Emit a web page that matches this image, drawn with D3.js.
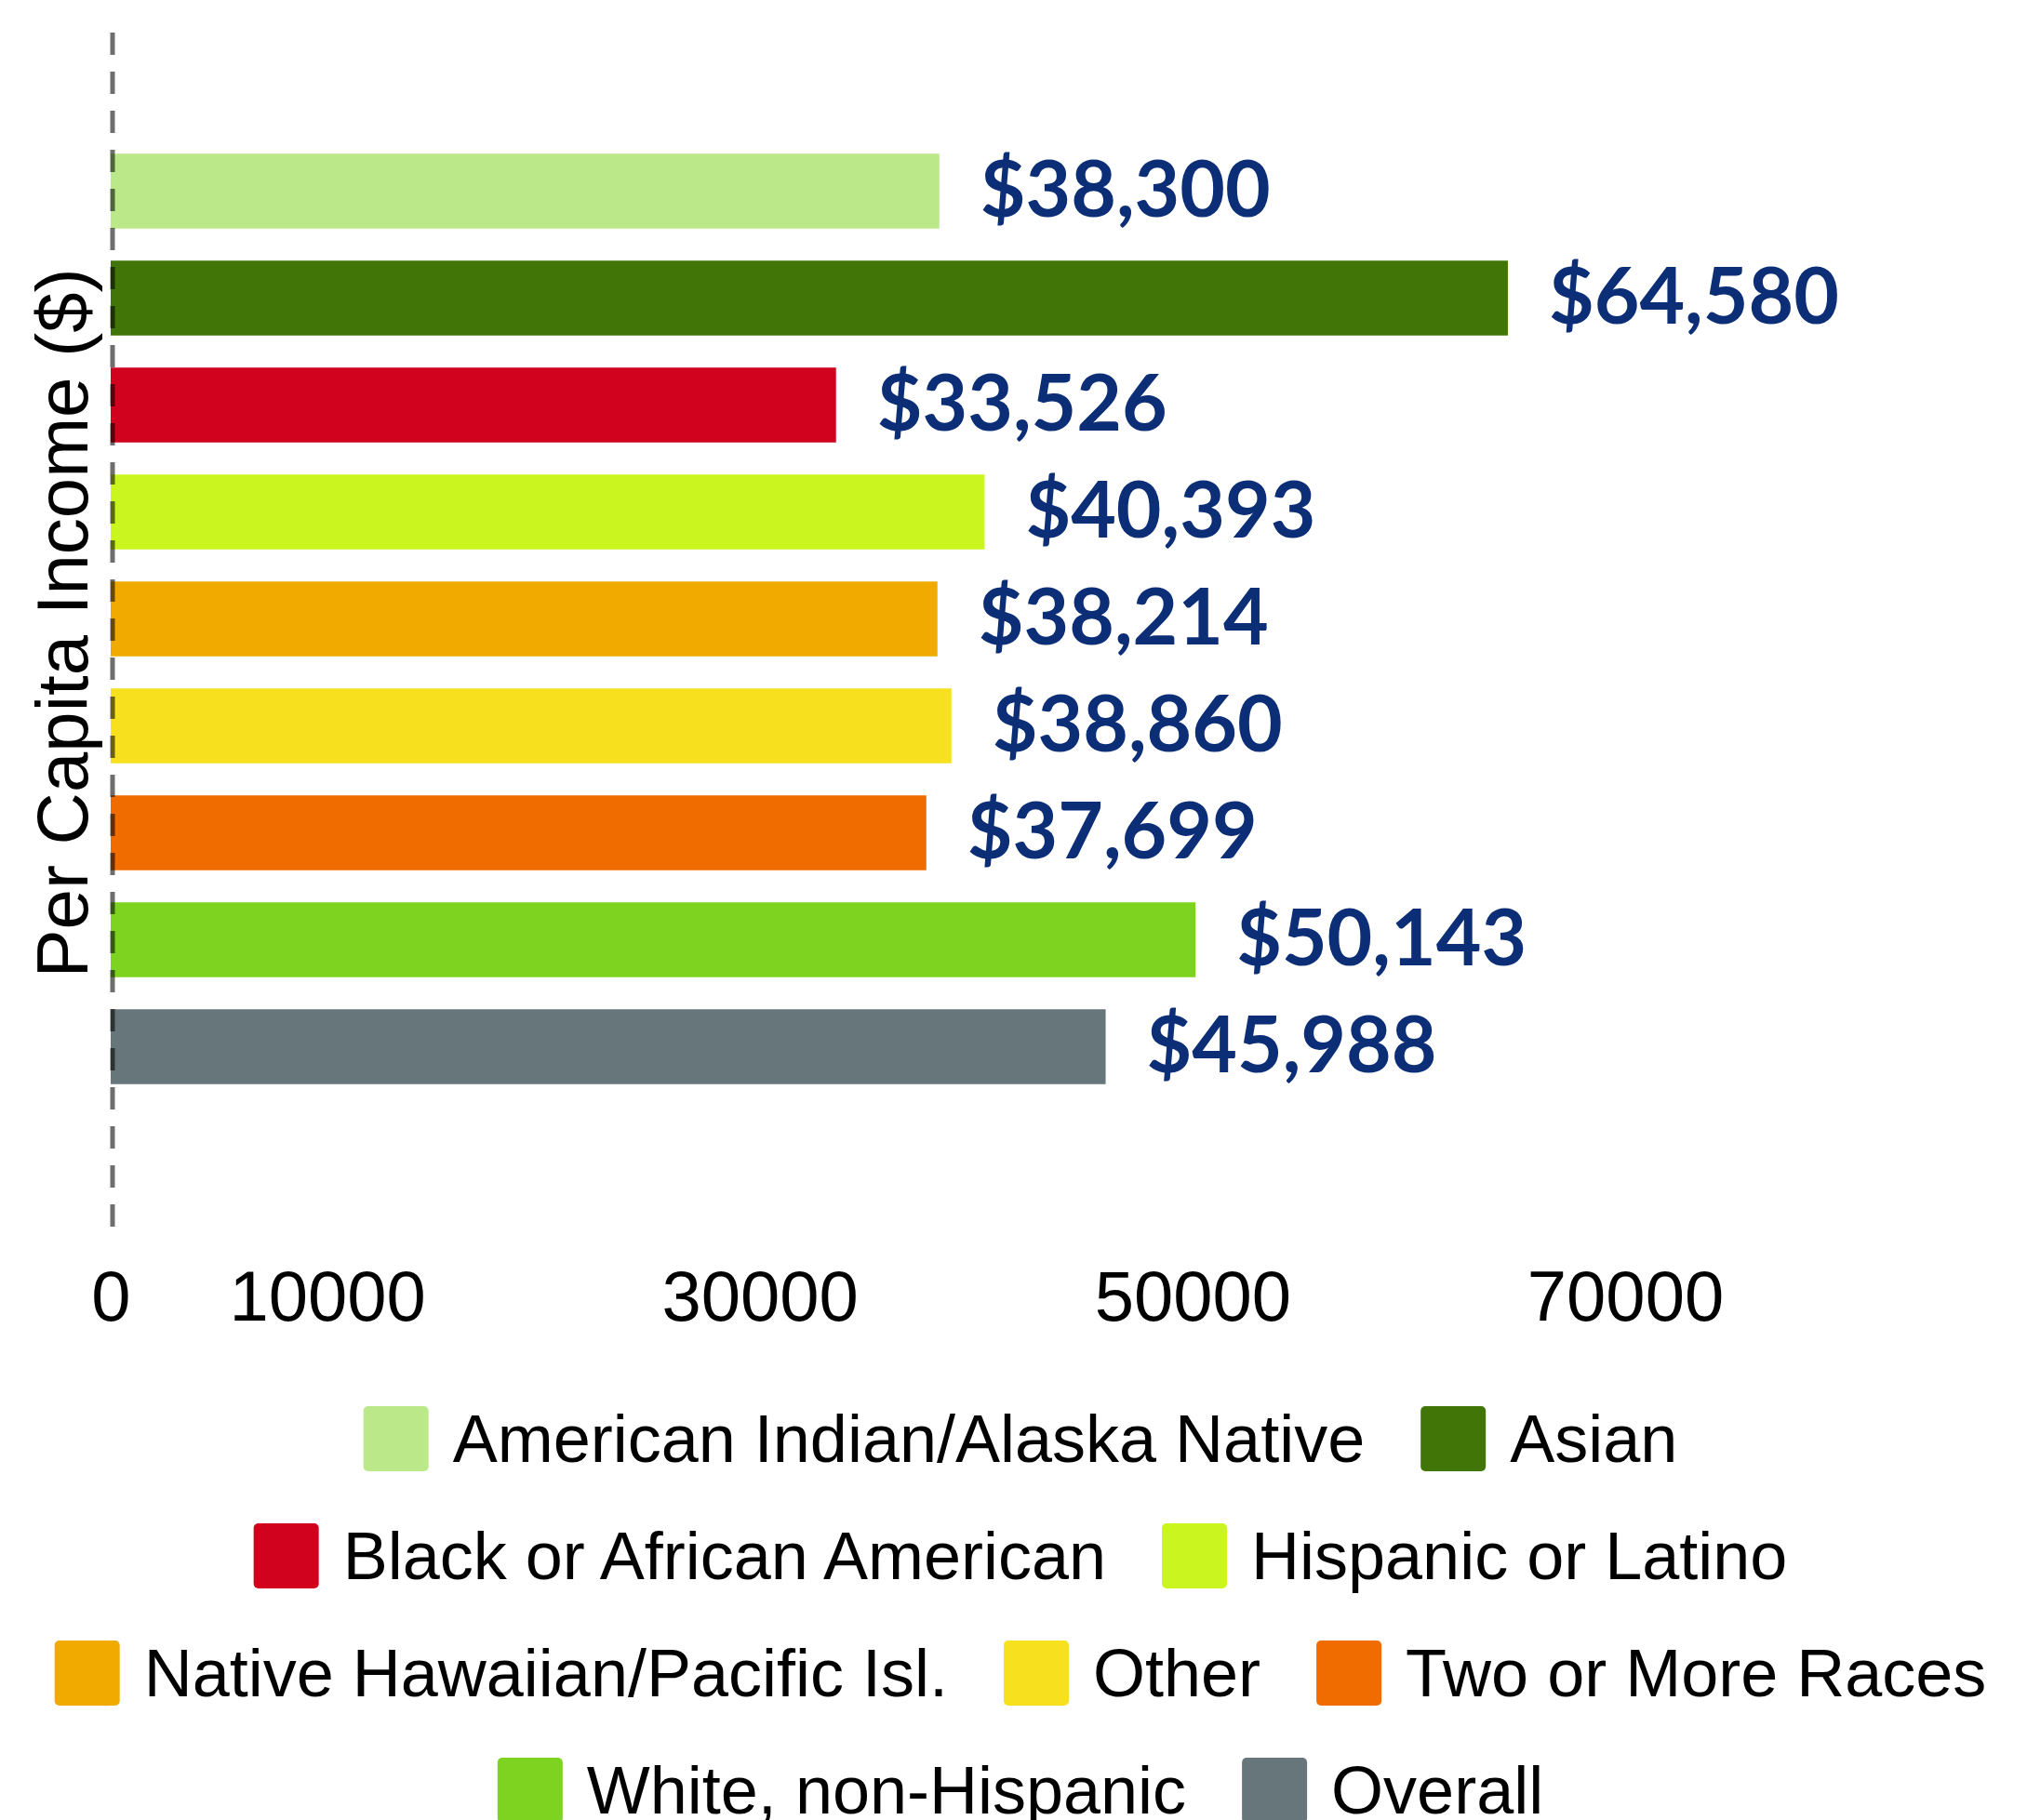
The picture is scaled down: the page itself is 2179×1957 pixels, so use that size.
<!DOCTYPE html>
<html>
<head>
<meta charset="utf-8">
<script src="https://cdn.jsdelivr.net/npm/d3@7"></script>
<style>
  body { margin: 0; background: #fff; }
  svg { display: block; }
</style>
</head>
<body>
<script>
// values
var groups = ["American Indian/Alaska Native", "Asian", "Black or African American",
  "Hispanic or Latino", "Native Hawaiian/Pacific Isl.", "Other", "Two or More Races",
  "White, non-Hispanic", "Overall"];
var income = [38300, 64580, 33526, 40393, 38214, 38860, 37699, 50143, 45988];
var colours = ["#bbe98a", "#427508", "#d0021e", "#cbf51e", "#f0aa00", "#f7e11f",
  "#f06c00", "#7ed321", "#67767a"];
var tickVals = [0, 10000, 30000, 50000, 70000];
var legendRows = [[0, 1], [2, 3], [4, 5, 6], [7, 8]];

var width = 2179, height = 1957;

var svg = d3.select("body").append("svg")
  .attr("width", width)
  .attr("height", height);

var x = d3.scaleLinear().domain([0, 70000]).range([119, 1747]);
var y = d3.scaleBand().domain(groups).range([148, 1183])
  .paddingInner(0.3).paddingOuter(0.15);
var colour = d3.scaleOrdinal().domain(groups).range(colours);

// bars
svg.append("g").selectAll("rect")
  .data(groups)
  .enter().append("rect")
  .attr("x", x(0))
  .attr("y", function(d){ return y(d); })
  .attr("width", function(d, i){ return x(income[i]) - x(0); })
  .attr("height", y.bandwidth())
  .attr("fill", function(d){ return colour(d); });

// value labels
svg.append("g").selectAll("text")
  .data(groups)
  .enter().append("text")
  .attr("x", function(d, i){ return x(income[i]) + 44; })
  .attr("y", function(d){ return y(d) + y.bandwidth() / 2; })
  .attr("dy", "0.33em")
  .style("font-family", "Lato, sans-serif")
  .style("font-weight", 700)
  .style("font-size", "84px")
  .style("fill", "#0b2e77")
  .text(function(d, i){ return "$" + d3.format(",")(income[i]); });

// dashed zero line, on top of the bars
svg.append("line")
  .attr("x1", x(0) + 2).attr("x2", x(0) + 2)
  .attr("y1", 35).attr("y2", 1320)
  .attr("stroke", "#000")
  .attr("stroke-opacity", 0.57)
  .attr("stroke-width", 5)
  .attr("stroke-dasharray", "24,18");

// x axis, labels only
var axis = svg.append("g")
  .attr("transform", "translate(0,1366)")
  .call(d3.axisBottom(x).tickValues(tickVals).tickSize(0).tickPadding(0)
    .tickFormat(d3.format("d")));
axis.select(".domain").remove();
axis.selectAll("text")
  .attr("dy", "0.71em")
  .style("font-family", "'Liberation Sans', Arial, sans-serif")
  .style("font-size", "76px")
  .style("fill", "#000");

// y title
svg.append("text")
  .attr("transform", "translate(94,670) rotate(-90)")
  .attr("text-anchor", "middle")
  .style("font-family", "'Liberation Sans', Arial, sans-serif")
  .style("font-size", "78px")
  .style("fill", "#000")
  .text("Per Capita Income ($)");

// legend
var rowY = [1547, 1673, 1799, 1925];
var sw = 70, gapText = 26, gapItem = 60, legendMid = 1097;

legendRows.forEach(function(row, r){
  var g = svg.append("g");
  var pos = 0;
  row.forEach(function(i){
    var item = g.append("g").attr("transform", "translate(" + pos + ",0)");
    item.append("rect")
      .attr("x", 0).attr("y", rowY[r] - sw / 2)
      .attr("width", sw).attr("height", sw)
      .attr("rx", 5)
      .attr("fill", colours[i]);
    var t = item.append("text")
      .attr("x", sw + gapText)
      .attr("y", rowY[r])
      .attr("dy", "0.35em")
      .style("font-family", "'Liberation Sans', Arial, sans-serif")
      .style("font-size", "72px")
      .style("fill", "#000")
      .text(groups[i]);
    pos += sw + gapText + t.node().getComputedTextLength() + gapItem;
  });
  var total = pos - gapItem;
  g.attr("transform", "translate(" + (legendMid - total / 2) + ",0)");
});
</script>
</body>
</html>
